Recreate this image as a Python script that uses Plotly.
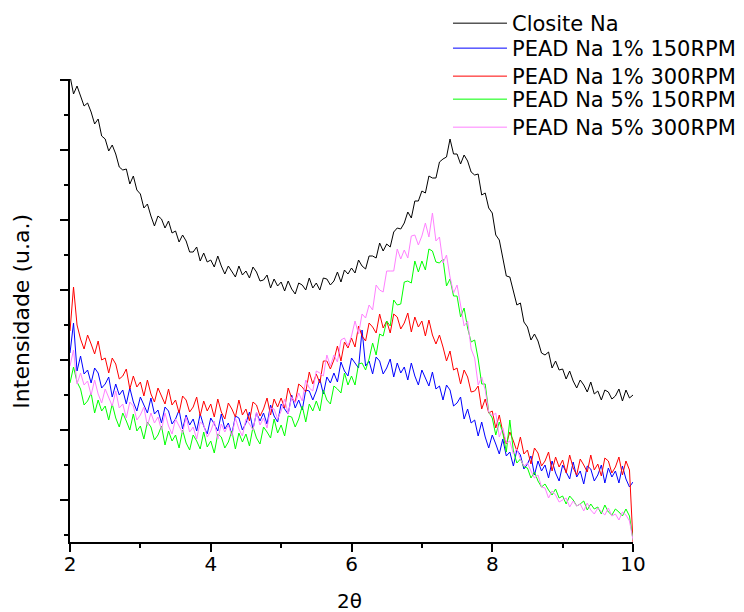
import numpy as np
import plotly.graph_objects as go

series_names = ["Closite Na", "PEAD Na 1% 150RPM", "PEAD Na 1% 300RPM",
                "PEAD Na 5% 150RPM", "PEAD Na 5% 300RPM"]
series_colors = ["#000000", "#0000ff", "#ff0000", "#00ff00", "#ff80ff"]

x_start, x_end = 2.0, 10.0
x_ticks = [2, 4, 6, 8, 10]
x_minor = [3, 5, 7, 9]

closite = [
    466, 448, 456, 445, 436, 439, 430, 418, 423, 406,
    403, 391, 397, 388, 375, 372, 373, 358, 366, 352,
    348, 334, 338, 326, 316, 326, 323, 314, 321, 309,
    311, 300, 307, 301, 290, 290, 295, 281, 289, 280,
    282, 275, 286, 276, 268, 276, 271, 265, 276, 267,
    271, 264, 275, 270, 261, 262, 267, 254, 263, 256,
    260, 251, 261, 253, 248, 259, 257, 252, 264, 254,
    259, 252, 264, 263, 257, 261, 270, 260, 272, 268,
    274, 269, 282, 276, 273, 286, 286, 284, 299, 291,
    298, 295, 310, 314, 313, 319, 330, 324, 341, 341,
    351, 349, 366, 364, 364, 380, 383, 385, 403, 388,
    388, 378, 387, 381, 370, 367, 368, 347, 349, 334,
    329, 307, 302, 283, 266, 265, 251, 237, 239, 220,
    215, 202, 208, 201, 189, 187, 190, 174, 181, 172,
    173, 163, 171, 161, 154, 162, 157, 150, 160, 148,
    151, 142, 152, 150, 143, 146, 153, 141, 152, 144,
    147]

pead_1_150 = [
    189, 219, 171, 186, 168, 172, 159, 174, 169, 154,
    158, 165, 145, 158, 147, 152, 138, 154, 140, 131,
    145, 137, 129, 144, 128, 132, 119, 135, 131, 118,
    123, 132, 113, 127, 117, 123, 111, 128, 116, 108,
    124, 118, 111, 128, 113, 119, 108, 126, 124, 112,
    119, 130, 113, 129, 121, 129, 118, 137, 126, 120,
    138, 133, 128, 147, 134, 142, 132, 152, 151, 142,
    151, 163, 148, 165, 159, 169, 160, 180, 171, 166,
    184, 179, 174, 212, 176, 181, 168, 185, 181, 168,
    174, 183, 165, 179, 169, 175, 162, 179, 166, 157,
    172, 164, 156, 170, 153, 156, 142, 157, 152, 136,
    139, 145, 123, 133, 119, 122, 106, 120, 105, 94,
    107, 98, 88, 103, 86, 90, 76, 92, 87, 73,
    78, 86, 67, 81, 71, 77, 64, 81, 69, 61,
    77, 70, 63, 80, 65, 71, 58, 76, 73, 61,
    67, 77, 59, 74, 65, 71, 59, 76, 63, 55,
    60]

pead_1_300 = [
    211, 255, 217, 203, 193, 207, 198, 188, 201, 182,
    184, 169, 184, 178, 163, 166, 173, 153, 166, 155,
    160, 146, 162, 148, 140, 154, 146, 138, 153, 137,
    142, 129, 146, 142, 130, 135, 145, 126, 141, 131,
    138, 125, 143, 130, 123, 139, 133, 125, 142, 127,
    133, 121, 140, 137, 126, 133, 144, 127, 143, 135,
    144, 134, 154, 144, 140, 158, 155, 150, 170, 158,
    168, 159, 181, 181, 173, 182, 196, 181, 200, 194,
    204, 195, 216, 206, 201, 219, 215, 209, 228, 214,
    221, 209, 228, 225, 213, 219, 229, 210, 225, 215,
    221, 206, 222, 207, 198, 207, 195, 181, 191, 172,
    174, 158, 172, 165, 150, 151, 156, 133, 143, 129,
    131, 114, 127, 110, 98, 110, 101, 91, 105, 88,
    92, 78, 94, 89, 76, 81, 90, 71, 85, 75,
    82, 69, 87, 74, 67, 83, 77, 70, 87, 72,
    78, 66, 84, 81, 69, 75, 85, 67, 81, 72,
    0]

pead_5_150 = [
    159, 175, 160, 153, 137, 141, 149, 129, 142, 131,
    136, 122, 138, 124, 115, 129, 121, 112, 128, 111,
    116, 103, 120, 115, 102, 107, 116, 97, 111, 101,
    107, 94, 112, 99, 92, 107, 101, 93, 110, 95,
    101, 89, 108, 105, 94, 100, 111, 93, 109, 100,
    108, 96, 115, 104, 98, 115, 110, 104, 123, 109,
    117, 106, 126, 125, 115, 123, 136, 120, 138, 131,
    141, 131, 152, 142, 138, 156, 153, 149, 169, 157,
    166, 157, 178, 179, 172, 183, 199, 187, 208, 206,
    221, 216, 242, 237, 238, 260, 261, 259, 281, 270,
    281, 272, 293, 291, 280, 279, 283, 256, 263, 246,
    246, 225, 234, 214, 200, 202, 183, 158, 158, 130,
    124, 107, 120, 109, 90, 122, 91, 79, 83, 75,
    74, 64, 70, 61, 55, 58, 52, 47, 53, 44,
    46, 38, 46, 42, 36, 38, 41, 32, 38, 33,
    35, 28, 37, 30, 27, 33, 30, 26, 33, 26,
    2]

pead_5_300 = [
    176, 192, 158, 169, 157, 161, 147, 162, 148, 139,
    153, 145, 136, 151, 134, 138, 124, 140, 136, 122,
    127, 135, 116, 129, 119, 125, 112, 129, 116, 108,
    123, 116, 109, 125, 110, 115, 103, 120, 117, 105,
    111, 121, 103, 118, 110, 117, 106, 124, 113, 106,
    123, 118, 112, 130, 117, 124, 114, 134, 133, 123,
    131, 143, 128, 145, 139, 149, 141, 162, 154, 151,
    171, 169, 166, 187, 176, 187, 180, 202, 204, 196,
    206, 221, 208, 228, 224, 237, 232, 257, 252, 250,
    271, 271, 271, 293, 283, 292, 284, 306, 307, 297,
    306, 319, 305, 329, 301, 305, 279, 287, 265, 249,
    257, 237, 216, 221, 193, 184, 157, 165, 152, 130,
    126, 129, 105, 114, 99, 101, 88, 93, 83, 76,
    79, 71, 64, 67, 55, 54, 44, 51, 47, 40,
    42, 44, 35, 41, 36, 38, 31, 39, 32, 28,
    34, 30, 27, 34, 26, 28, 22, 30, 27, 21,
    2]

all_series = [closite, pead_1_150, pead_1_300, pead_5_150, pead_5_300]

y_range = [0, 463]
y_major = [42, 112, 182, 252, 322, 392, 462]
y_minor = [7, 77, 147, 217, 287, 357, 427]

# one legend box per entry so the rows can sit where the reference has them
legend_ids = ["legend", "legend2", "legend3", "legend4", "legend5"]
legend_tops = [1.1641, 1.1102, 1.0497, 1.0000, 0.9395]

font_family = "DejaVu Sans, Verdana, sans-serif"

fig = go.Figure()
for name, color, vals, lid in zip(series_names, series_colors, all_series, legend_ids):
    xs = np.round(np.linspace(x_start, x_end, len(vals)), 3)
    fig.add_trace(go.Scatter(x=xs, y=vals, mode="lines", name=name, legend=lid,
                             line=dict(color=color, width=1)))

legend_layout = {}
for lid, top in zip(legend_ids, legend_tops):
    legend_layout[lid] = dict(x=0.6714, y=top, xanchor="left", yanchor="top",
                              bgcolor="rgba(0,0,0,0)",
                              font=dict(size=21, family=font_family, color="black"),
                              itemwidth=54)

fig.update_layout(
    width=736, height=604,
    margin=dict(l=62, r=111, t=71, b=70, autoexpand=False),
    paper_bgcolor="white", plot_bgcolor="white",
    font=dict(family=font_family, size=20, color="black"),
    showlegend=True,
    xaxis=dict(range=[x_start, x_end], tickvals=x_ticks, ticks="outside",
               ticklen=8, tickwidth=2, tickcolor="black", showline=True,
               linecolor="black", linewidth=2, showgrid=False, zeroline=False,
               ticklabelstandoff=-5,
               minor=dict(tickvals=x_minor, ticks="outside", ticklen=4,
                          tickwidth=2, tickcolor="black"),
               tickfont=dict(size=20)),
    yaxis=dict(range=y_range, tickvals=y_major, ticktext=[""] * len(y_major),
               ticks="outside", ticklen=8, tickwidth=2, tickcolor="black",
               showline=True, linecolor="black", linewidth=2, showgrid=False,
               zeroline=False,
               minor=dict(tickvals=y_minor, ticks="outside", ticklen=4,
                          tickwidth=2, tickcolor="black")),
    annotations=[
        dict(text="2θ", xref="paper", yref="paper", x=0.497, y=-0.1274,
             xanchor="center", yanchor="middle", showarrow=False,
             font=dict(size=20)),
        dict(text="Intensidade (u.a.)", xref="paper", yref="paper",
             x=-0.0858, y=0.499, xanchor="center", yanchor="middle",
             textangle=-90, showarrow=False, font=dict(size=22)),
    ],
    **legend_layout,
)

fig.write_html("out.html")
